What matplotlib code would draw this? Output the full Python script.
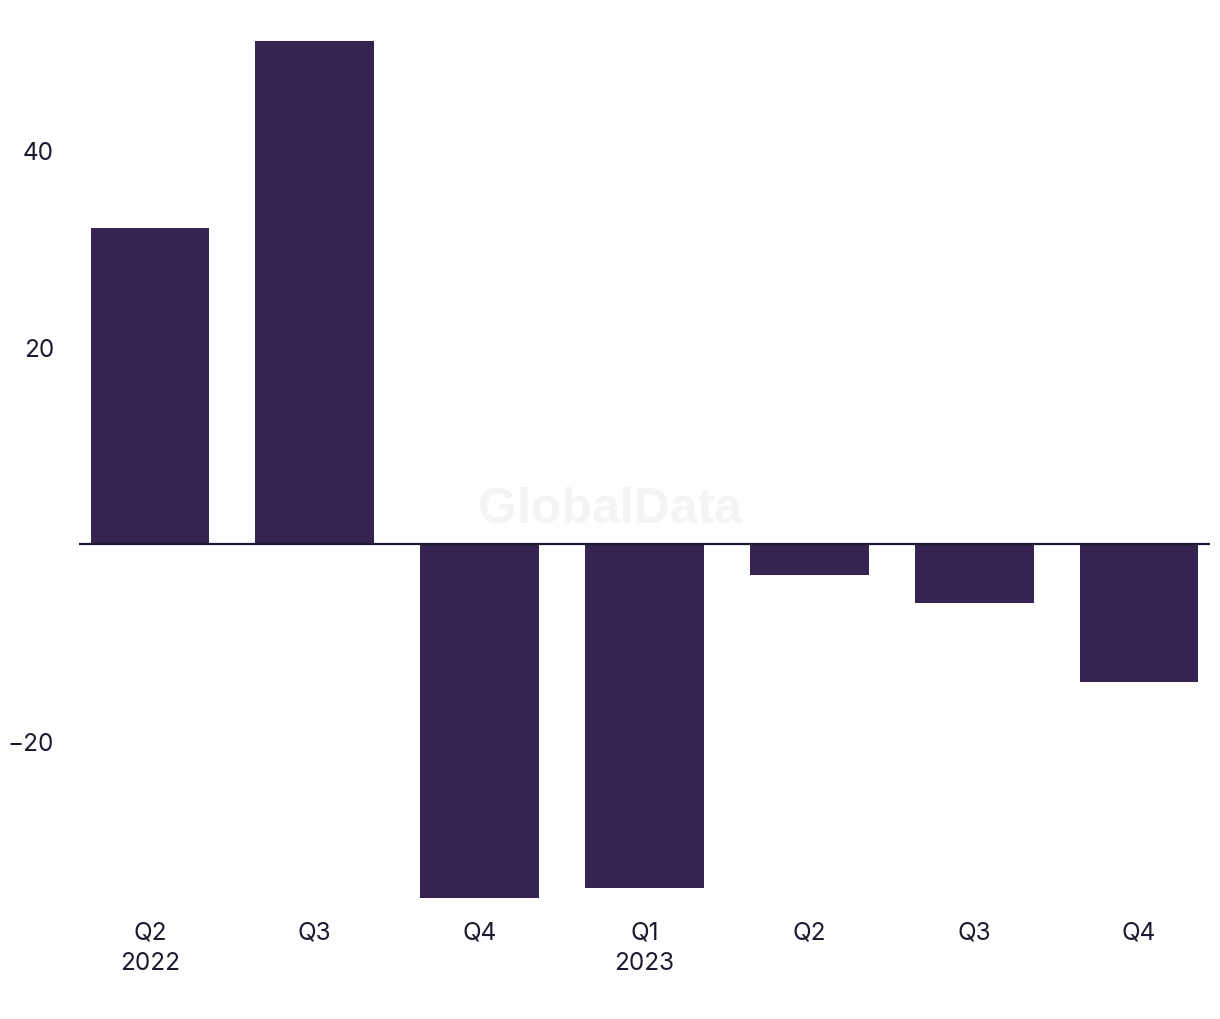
import matplotlib.pyplot as plt

quarters = ["Q2\n2022", "Q3", "Q4", "Q1\n2023", "Q2", "Q3", "Q4"]
values = [32.1, 51.1, -35.9, -34.9, -3.1, -6.0, -14.0]
yticks = [-20, 20, 40]

barColor = "#352452"
textColor = "#1b1b2f"

plt.rcParams["font.family"] = ["Inter", "DejaVu Sans"]

fig = plt.figure(figsize=(12.2, 10.2), dpi=100)
ax = fig.add_axes([79 / 1220, 121 / 1020, 1131 / 1220, 857 / 1020])

x = list(range(len(values)))
ax.bar(x, values, width=0.72, color=barColor, zorder=2)
ax.axhline(0, color="#1b1b2f", linewidth=1.6, zorder=3)

ax.set_xlim(-0.43, len(values) - 1 + 0.43)
ax.set_ylim(min(values), max(values))

ax.set_xticks(x)
ax.set_xticklabels(quarters, fontsize=17.5, color=textColor, linespacing=1.42)
ax.set_yticks(yticks)
ax.set_yticklabels([str(t).replace("-", "\u2212") for t in yticks], fontsize=17.5, color=textColor)
ax.tick_params(axis="both", length=0)
ax.tick_params(axis="x", pad=16)
ax.tick_params(axis="y", pad=18)

for s in ax.spines.values():
    s.set_visible(False)

# faint watermark
fig.text(610 / 1220, 1 - 510 / 1020, "GlobalData", fontsize=36, fontweight="bold",
         family="Liberation Sans", color="#f4f4f4", ha="center", va="center", zorder=0)

fig.savefig("out.png", dpi=100)
